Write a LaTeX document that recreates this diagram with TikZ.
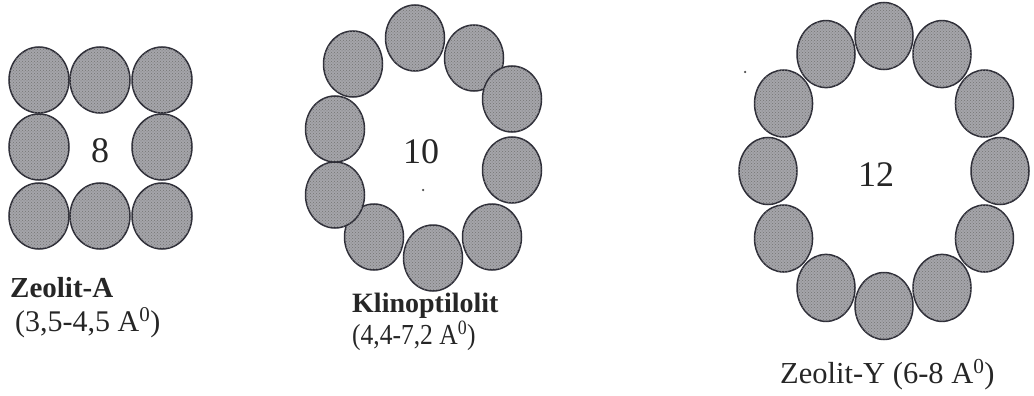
\documentclass[tikz,border=0pt]{standalone}
\usepackage{fontspec}
\setmainfont{Liberation Serif}
\usetikzlibrary{shapes.geometric,patterns}
\definecolor{ballgray}{RGB}{165,165,170}
\definecolor{balledge}{RGB}{45,45,55}
\begin{document}
\begin{tikzpicture}[x=1pt,y=-1pt,
  ball/.style={ellipse, draw=balledge, line width=1.5pt, fill=ballgray,
    postaction={pattern=crosshatch dots, pattern color=black!55},
    minimum width=60pt, minimum height=66pt, inner sep=0pt},
  num/.style={font=\fontsize{36}{40}\selectfont, inner sep=0pt, text=black!85},
  lbl/.style={anchor=base west, inner sep=0pt, text=black!85},
  speck/.style={circle, fill=black!70, inner sep=0pt, minimum size=2.5pt}]
\useasboundingbox (0,0) rectangle (1034,396);
% Zeolit-A
\foreach \n/\x/\y in {a1/39/80, a2/100/80, a3/162/80,
                      a4/39/147, a6/162/147,
                      a7/39/216, a8/100/216, a9/162/216}
  \node[ball] (\n) at (\x,\y) {};
\node[num] (n8) at (100,151) {8};
% Klinoptilolit
\foreach \n/\x/\y in {k1/415/38, k2/474/58, k3/512/99, k4/512/170, k5/492/237,
                      k6/433/258, k7/374/237, k8/335/195, k9/335/129, k10/353/64}
  \node[ball, minimum width=59pt] (\n) at (\x,\y) {};
\node[num] (n10) at (421,152) {10};
\node[speck] (s1) at (423,190) {};
% Zeolit-Y
\foreach \i in {0,...,11}
  \node[ball, minimum width=58pt, minimum height=67pt] (y\i) at ({884+116*cos(90-30*\i)},{171-135*sin(90-30*\i)}) {};
\node[num] (n12) at (876,175) {12};
\node[speck] (s2) at (745,72) {};
% labels
\node[lbl] (za) at (10,297) {\fontsize{29}{32}\selectfont\bfseries Zeolit-A};
\node[lbl] (zad) at (15,331) {\fontsize{30}{34}\selectfont (3,5-4,5 A\textsuperscript{0})};
\node[lbl] (kl) at (352,312) {\fontsize{28}{32}\selectfont\bfseries Klinoptilolit};
\node[lbl] (kld) at (352,344) {\scalebox{0.88}[1]{\fontsize{29}{32}\selectfont (4,4-7,2 A\textsuperscript{0})}};
\node[lbl] (zy) at (780,383) {\fontsize{30.5}{34}\selectfont Zeolit-Y (6-8 A\textsuperscript{0})};
\end{tikzpicture}
\end{document}
